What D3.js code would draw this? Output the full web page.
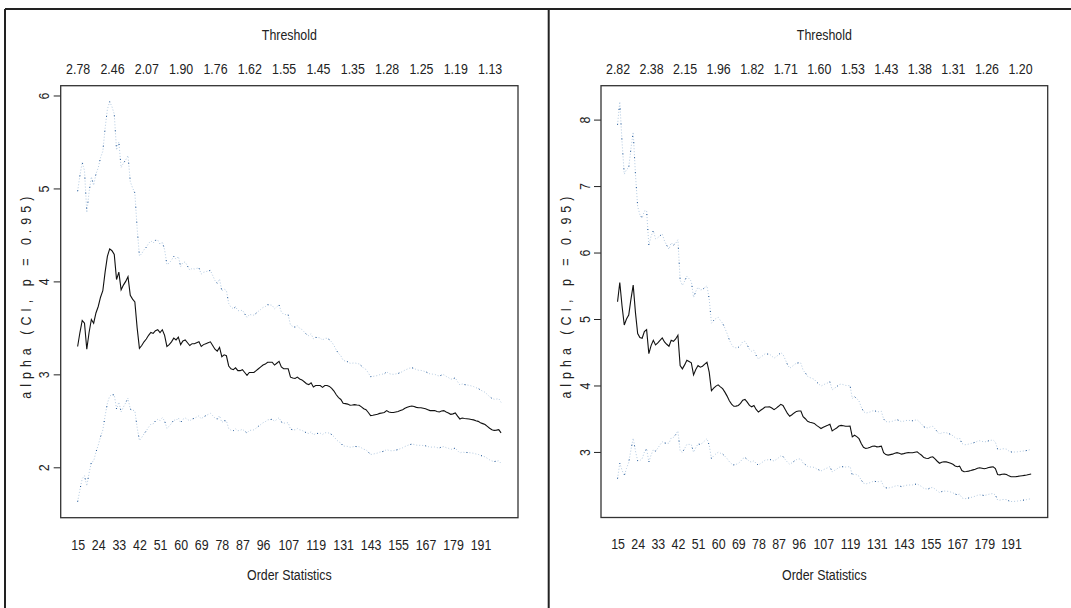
<!DOCTYPE html>
<html lang="en">
<head>
<meta charset="UTF-8">
<title>Hill plots</title>
<script src="https://cdn.jsdelivr.net/npm/d3@7"></script>
<style>
    body { margin: 0; background: #fff; }
    text {
        font-family: "Liberation Sans", Arial, sans-serif;
        font-size: 15.5px;
        fill: #222;
    }
</style>
</head>
<body>
<svg id="chart" width="1071" height="608"></svg>
<script>
    // order statistics k = 15 .. 200
    var kStart = 15, kEnd = 200;

    // Hill estimate of alpha, one value per k
    var alphaLeft = [
        3.30, 3.45, 3.58, 3.55, 3.27, 3.45, 3.59, 3.55, 3.66, 3.73,
        3.83, 3.90, 4.10, 4.27, 4.35, 4.33, 4.29, 4.02, 4.10, 3.91,
        3.96, 4.00, 4.05, 3.85, 3.81, 3.78, 3.50, 3.28, 3.31, 3.35,
        3.38, 3.42, 3.45, 3.44, 3.47, 3.48, 3.45, 3.48, 3.42, 3.30,
        3.32, 3.35, 3.39, 3.37, 3.40, 3.32, 3.36, 3.37, 3.34, 3.31,
        3.33, 3.33, 3.34, 3.35, 3.30, 3.32, 3.33, 3.34, 3.35, 3.31,
        3.27, 3.25, 3.29, 3.19, 3.21, 3.20, 3.09, 3.06, 3.05, 3.07,
        3.04, 3.04, 3.05, 3.02, 2.99, 3.02, 3.02, 3.02, 3.04, 3.06,
        3.08, 3.10, 3.11, 3.13, 3.13, 3.13, 3.10, 3.12, 3.14, 3.08,
        3.06, 3.06, 3.06, 2.97, 2.96, 2.955, 2.97, 2.95, 2.94, 2.92,
        2.90, 2.89, 2.91, 2.865, 2.88, 2.88, 2.88, 2.86, 2.88, 2.88,
        2.87, 2.85, 2.82, 2.78, 2.75, 2.73, 2.69, 2.685, 2.68, 2.667,
        2.67, 2.674, 2.67, 2.667, 2.65, 2.63, 2.62, 2.59, 2.556, 2.56,
        2.565, 2.57, 2.58, 2.585, 2.59, 2.61, 2.595, 2.59, 2.59, 2.595,
        2.60, 2.61, 2.62, 2.635, 2.645, 2.655, 2.66, 2.655, 2.645, 2.64,
        2.64, 2.635, 2.63, 2.62, 2.61, 2.61, 2.61, 2.60, 2.595, 2.605,
        2.61, 2.595, 2.585, 2.57, 2.575, 2.585, 2.55, 2.52, 2.53, 2.525,
        2.523, 2.52, 2.515, 2.51, 2.50, 2.494, 2.48, 2.47, 2.46, 2.44,
        2.42, 2.405, 2.397, 2.40, 2.405, 2.37
    ];

    var alphaRight = [
        5.26, 5.55, 5.20, 4.91, 5.00, 5.06, 5.30, 5.51, 5.10, 4.78,
        4.72, 4.71, 4.81, 4.84, 4.48, 4.60, 4.68, 4.61, 4.64, 4.68,
        4.715, 4.655, 4.62, 4.59, 4.68, 4.665, 4.70, 4.755, 4.30, 4.25,
        4.31, 4.38, 4.36, 4.34, 4.16, 4.24, 4.30, 4.275, 4.29, 4.32,
        4.35, 4.20, 3.92, 3.96, 3.99, 4.01, 3.98, 3.953, 3.90, 3.84,
        3.77, 3.72, 3.687, 3.69, 3.70, 3.73, 3.78, 3.79, 3.75, 3.70,
        3.68, 3.70, 3.64, 3.60, 3.627, 3.65, 3.677, 3.677, 3.68, 3.66,
        3.637, 3.66, 3.687, 3.717, 3.70, 3.64, 3.58, 3.537, 3.56, 3.587,
        3.61, 3.617, 3.617, 3.53, 3.50, 3.46, 3.447, 3.44, 3.43, 3.40,
        3.377, 3.352, 3.37, 3.387, 3.40, 3.417, 3.317, 3.34, 3.36, 3.39,
        3.40, 3.395, 3.387, 3.387, 3.39, 3.227, 3.252, 3.23, 3.20, 3.127,
        3.07, 3.052, 3.06, 3.07, 3.085, 3.09, 3.077, 3.08, 3.087, 2.99,
        2.96, 2.952, 2.96, 2.967, 2.98, 2.99, 2.98, 2.967, 2.975, 2.985,
        2.99, 2.987, 2.987, 2.995, 3.002, 2.975, 2.95, 2.915, 2.905, 2.902,
        2.92, 2.927, 2.895, 2.86, 2.83, 2.845, 2.852, 2.85, 2.842, 2.83,
        2.815, 2.79, 2.777, 2.787, 2.72, 2.702, 2.705, 2.712, 2.72, 2.73,
        2.74, 2.755, 2.762, 2.755, 2.747, 2.755, 2.765, 2.772, 2.777, 2.75,
        2.66, 2.655, 2.665, 2.667, 2.662, 2.64, 2.627, 2.627, 2.628, 2.632,
        2.637, 2.642, 2.647, 2.652, 2.66, 2.667
    ];

    // axis labels
    var orderLabels = [15, 24, 33, 42, 51, 60, 69, 78, 87, 96, 107, 119, 131, 143, 155, 167, 179, 191];
    var thresholdAt = [15, 30, 45, 60, 75, 90, 105, 120, 135, 150, 165, 180, 195];
    var thresholdLeft = ["2.78", "2.46", "2.07", "1.90", "1.76", "1.62", "1.55", "1.45", "1.35", "1.28", "1.25", "1.19", "1.13"];
    var thresholdRight = ["2.82", "2.38", "2.15", "1.96", "1.82", "1.71", "1.60", "1.53", "1.43", "1.38", "1.31", "1.26", "1.20"];
    var yTicksLeft = [2, 3, 4, 5, 6];
    var yTicksRight = [3, 4, 5, 6, 7, 8];

    var ci = 0.95;
    var qq = 1.959964; // qnorm(1 - (1 - ci) / 2)

    var narrow = "scale(0.8,1)"; // the original text is a condensed face

    var svg = d3.select("#chart");

    // outer frame (table cells around the two plots)
    svg.append("g")
        .attr("stroke", "#222")
        .attr("stroke-width", 2)
        .selectAll("line")
        .data([[5, 9, 1071, 9], [5, 9, 5, 608], [548.7, 9, 548.7, 608]])
        .enter().append("line")
        .attr("x1", function(d) { return d[0]; })
        .attr("y1", function(d) { return d[1]; })
        .attr("x2", function(d) { return d[2]; })
        .attr("y2", function(d) { return d[3]; });

    function drawPanel(alpha, thresholds, yTicks, box) {
        var rows = alpha.map(function(a, i) {
            var k = kStart + i;
            var se = a / Math.sqrt(k);
            return { k: k, a: a, u: a + qq * se, l: a - qq * se };
        });

        // R style axis ranges: data range extended by 4% on each side
        var ymin = d3.min(rows, function(d) { return d.l; });
        var ymax = d3.max(rows, function(d) { return d.u; });
        var ypad = (ymax - ymin) * 0.04;
        var xpad = (kEnd - kStart) * 0.04;

        var x = d3.scaleLinear()
            .domain([kStart - xpad, kEnd + xpad])
            .range([box.x0, box.x1]);
        var y = d3.scaleLinear()
            .domain([ymin - ypad, ymax + ypad])
            .range([box.y1, box.y0]);

        var g = svg.append("g");

        // bottom axis: order statistics
        var bottom = g.append("g")
            .attr("transform", "translate(0," + box.y1 + ")")
            .call(d3.axisBottom(x).tickValues(orderLabels).tickSize(0).tickPadding(21));
        bottom.select(".domain").remove();

        // top axis: thresholds
        var top = g.append("g")
            .attr("transform", "translate(0," + box.y0 + ")")
            .call(d3.axisTop(x).tickValues(thresholdAt)
                .tickFormat(function(d, i) { return thresholds[i]; })
                .tickSize(0).tickPadding(12));
        top.select(".domain").remove();

        bottom.selectAll(".tick text").attr("transform", narrow);
        top.selectAll(".tick text").attr("transform", narrow);

        // left axis, labels parallel to the axis
        var left = g.append("g")
            .attr("transform", "translate(" + box.x0 + ",0)")
            .call(d3.axisLeft(y).tickValues(yTicks).tickFormat(d3.format("d")).tickSize(7));
        left.select(".domain").remove();
        left.selectAll(".tick line").attr("stroke", "#222");
        left.selectAll(".tick text")
            .attr("x", null)
            .attr("dy", null)
            .attr("text-anchor", "middle")
            .attr("transform", "translate(-11.5,0) rotate(-90) " + narrow);

        g.selectAll(".tick text").attr("fill", "#222");

        // box
        g.append("rect")
            .attr("x", box.x0)
            .attr("y", box.y0)
            .attr("width", box.x1 - box.x0)
            .attr("height", box.y1 - box.y0)
            .attr("fill", "none")
            .attr("stroke", "#333")
            .attr("stroke-width", 1.3);

        // confidence bands, dotted
        ["u", "l"].forEach(function(key) {
            var ln = d3.line()
                .x(function(d) { return x(d.k); })
                .y(function(d) { return y(d[key]); });
            g.append("path")
                .datum(rows)
                .attr("d", ln)
                .attr("fill", "none")
                .attr("stroke", "#b4cbe2")
                .attr("stroke-width", 1)
                .attr("stroke-dasharray", "1,2");
            g.append("path")
                .datum(rows)
                .attr("d", ln)
                .attr("fill", "none")
                .attr("stroke", "#1f5596")
                .attr("stroke-width", 1)
                .attr("stroke-dasharray", "1,14");
        });

        // Hill estimate
        g.append("path")
            .datum(rows)
            .attr("d", d3.line()
                .x(function(d) { return x(d.k); })
                .y(function(d) { return y(d.a); }))
            .attr("fill", "none")
            .attr("stroke", "#111")
            .attr("stroke-width", 1.1);

        // titles
        var cx = (box.x0 + box.x1) / 2;
        g.append("text")
            .attr("text-anchor", "middle")
            .attr("transform", "translate(" + cx + ",40) " + narrow)
            .text("Threshold");
        g.append("text")
            .attr("text-anchor", "middle")
            .attr("transform", "translate(" + cx + ",580) " + narrow)
            .text("Order Statistics");
        g.append("text")
            .attr("text-anchor", "middle")
            .attr("textLength", 202 / 0.8)
            .attr("lengthAdjust", "spacing")
            .attr("transform", "translate(" + (box.x0 - 30) + "," + ((box.y0 + box.y1) / 2 - 4) + ") rotate(-90) " + narrow)
            .text("alpha (CI, p = " + ci + ")");
    }

    drawPanel(alphaLeft, thresholdLeft, yTicksLeft, { x0: 60.7, x1: 518, y0: 85.7, y1: 517.7 });
    drawPanel(alphaRight, thresholdRight, yTicksRight, { x0: 601, x1: 1047.7, y0: 85.7, y1: 517.5 });
</script>
</body>
</html>
